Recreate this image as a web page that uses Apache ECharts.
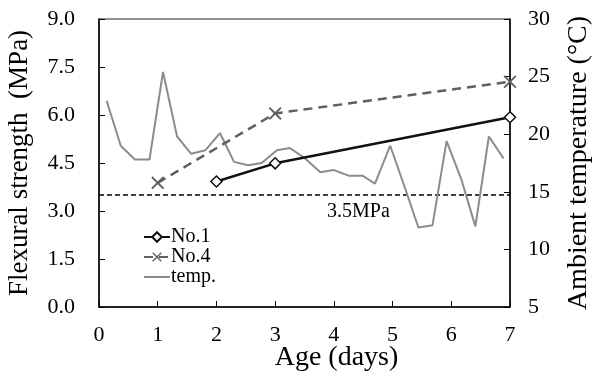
<!DOCTYPE html>
<html>
<head>
<meta charset="utf-8">
<script src="https://cdn.jsdelivr.net/npm/echarts@6/dist/echarts.min.js"></script>
<style>
  html, body { margin: 0; padding: 0; background: #fff; }
  #main { width: 599px; height: 376px; }
</style>
</head>
<body>
<div id="main"></div>
<script>
var ageTicks = [0, 1, 2, 3, 4, 5, 6, 7];

var no1Days = [2, 3, 7];
var no1Strength = [3.92, 4.49, 5.93];

var no4Days = [1, 3, 7];
var no4Strength = [3.88, 6.05, 7.04];

var limitDays = [0, 7];
var limitStrength = 3.5;

var tempDays = [0.13, 0.37, 0.61, 0.86, 1.09, 1.33, 1.57, 1.81, 2.06, 2.30, 2.54, 2.77, 3.03, 3.25, 3.51,
    3.77, 3.99, 4.25, 4.49, 4.70, 4.96, 5.20, 5.44, 5.68, 5.92, 6.17, 6.41, 6.64, 6.89];
var tempValues = [22.9, 19.0, 17.8, 17.8, 25.4, 19.8, 18.3, 18.6, 20.1, 17.6, 17.3, 17.5, 18.6, 18.8, 17.9,
    16.7, 16.9, 16.4, 16.4, 15.7, 19.0, 15.5, 11.9, 12.1, 19.4, 16.1, 12.0, 19.8, 17.9];

function pairs(xs, ys) {
    var out = [];
    for (var i = 0; i < xs.length; i++) {
        out.push([xs[i], Array.isArray(ys) ? ys[i] : ys]);
    }
    return out;
}

var serif = '"Times New Roman", "Liberation Serif", serif';
var crossPath = 'path://M0,1L1,0L5,4L9,0L10,1L6,5L10,9L9,10L5,6L1,10L0,9L4,5Z';

var myChart = echarts.init(document.getElementById('main'));
myChart.setOption({
    backgroundColor: '#fff',
    animation: false,
    textStyle: {fontFamily: serif},
    grid: {
        left: 99, right: 89, top: 19, bottom: 69,
        outerBoundsMode: 'none',
        show: true, borderColor: '#222', borderWidth: 1
    },
    legend: {
        orient: 'vertical',
        left: 138,
        top: 222,
        itemWidth: 26,
        itemHeight: 12,
        itemGap: 0,
        textStyle: {fontFamily: serif, fontSize: 20, lineHeight: 20, color: '#000', padding: [0, 0, 0, -4]},
        data: ['No.1', 'No.4', {name: 'temp.', itemStyle: {opacity: 0}}]
    },
    xAxis: {
        type: 'value',
        min: 0, max: 7, interval: 1,
        name: 'Age (days)',
        nameLocation: 'middle',
        nameGap: 37,
        nameMoveOverlap: false,
        nameTextStyle: {fontFamily: serif, fontSize: 28, color: '#000', padding: [0, 0, 0, 64]},
        axisLine: {lineStyle: {color: '#000', width: 1.5}},
        axisTick: {inside: true, length: 6, lineStyle: {color: '#000'}},
        axisLabel: {fontFamily: serif, fontSize: 22, color: '#000', margin: 17},
        splitLine: {show: false}
    },
    yAxis: [
        {
            type: 'value',
            min: 0, max: 9, interval: 1.5,
            name: 'Flexural strength  (MPa)',
            nameLocation: 'middle',
            nameGap: 66,
            nameMoveOverlap: false,
            nameTextStyle: {fontFamily: serif, fontSize: 27, color: '#000'},
            axisLine: {show: true, lineStyle: {color: '#000', width: 1.5}},
            axisTick: {show: true, inside: true, length: 6, lineStyle: {color: '#000'}},
            axisLabel: {fontFamily: serif, fontSize: 22, color: '#000', margin: 24,
                formatter: function (v) { return v.toFixed(1); }},
            splitLine: {show: false}
        },
        {
            type: 'value',
            min: 5, max: 30, interval: 5,
            position: 'right',
            name: 'Ambient temperature (°C)',
            nameLocation: 'middle',
            nameGap: 55,
            nameMoveOverlap: false,
            nameRotate: 90,
            nameTextStyle: {fontFamily: serif, fontSize: 28, color: '#000'},
            axisLine: {show: true, lineStyle: {color: '#000', width: 1.5}},
            axisTick: {show: true, inside: true, length: 6, lineStyle: {color: '#000'}},
            axisLabel: {fontFamily: serif, fontSize: 22, color: '#000', margin: 18},
            splitLine: {show: false}
        }
    ],
    graphic: [{
        type: 'text',
        left: 327,
        top: 202,
        style: {text: '3.5MPa', font: '20px "Times New Roman", "Liberation Serif", serif', fill: '#000'}
    }],
    series: [
        {
            name: '3.5MPa',
            type: 'line',
            data: pairs(limitDays, limitStrength),
            symbol: 'none',
            lineStyle: {color: '#000', width: 1.5, type: [5, 3]},
            z: 1
        },
        {
            name: 'temp.',
            type: 'line',
            yAxisIndex: 1,
            data: pairs(tempDays, tempValues),
            symbol: 'none',
            lineStyle: {color: '#8c8c8c', width: 2},
            itemStyle: {color: '#8c8c8c'},
            z: 2
        },
        {
            name: 'No.4',
            type: 'line',
            data: pairs(no4Days, no4Strength),
            symbol: crossPath,
            symbolSize: 13,
            lineStyle: {color: '#5f5f5f', width: 2.5, type: [9, 6]},
            itemStyle: {color: '#5f5f5f'},
            z: 3
        },
        {
            name: 'No.1',
            type: 'line',
            data: pairs(no1Days, no1Strength),
            symbol: 'diamond',
            symbolSize: 11,
            lineStyle: {color: '#111', width: 2.5},
            itemStyle: {color: '#fff', borderColor: '#111', borderWidth: 1.5},
            z: 4
        }
    ]
});
</script>
</body>
</html>
